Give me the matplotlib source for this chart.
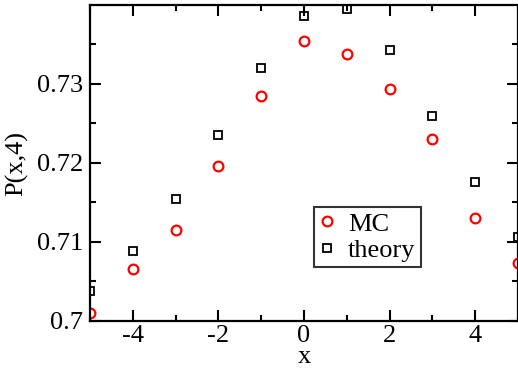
import numpy as np
import matplotlib
matplotlib.use("Agg")
import matplotlib.pyplot as plt

# data
x = [-5, -4, -3, -2, -1, 0, 1, 2, 3, 4, 5]
mc = [0.70097, 0.70653, 0.71158, 0.71966, 0.72854, 0.73539,
      0.73380, 0.72938, 0.72298, 0.71309, 0.70729]
theory = [0.70383, 0.70884, 0.71544, 0.72357, 0.73203, 0.73855,
          0.73952, 0.73426, 0.72601, 0.71759, 0.71057]

plt.rcParams['font.family'] = ['Liberation Serif', 'DejaVu Serif']
plt.rcParams['axes.unicode_minus'] = False

fig = plt.figure(figsize=(5.18, 3.69), dpi=100)
ax = fig.add_axes([90 / 518, 48 / 369, 428 / 518, 316 / 369])

ax.plot(x, mc, 'o', ms=7, mfc='none', mec='red', mew=1.6, label='MC')
ax.plot(x, theory, 's', ms=6, mfc='none', mec='black', mew=1.3, label='theory')

ax.set_xlim(-5, 5)
ax.set_ylim(0.7, 0.74)
ax.set_xticks([-4, -2, 0, 2, 4])
ax.set_xticks([-5, -3, -1, 1, 3, 5], minor=True)
ax.set_yticks([0.7, 0.71, 0.72, 0.73])
ax.set_yticklabels(['0.7', '0.71', '0.72', '0.73'])
ax.set_yticks(np.arange(0.705, 0.74, 0.01), minor=True)

ax.tick_params(which='both', direction='in', top=True, right=True,
               labelsize=19, width=1.5, pad=5)
ax.tick_params(axis='x', pad=3)
ax.tick_params(which='major', length=8)
ax.tick_params(which='minor', length=4)
for s in ax.spines.values():
    s.set_linewidth(1.6)

ax.set_xlabel('x', fontsize=19, labelpad=-1)
ax.set_ylabel('P(x,4)', fontsize=19, labelpad=6)

leg = ax.legend(loc='upper left', bbox_to_anchor=(0.523, 0.361), fontsize=19,
                frameon=True, fancybox=False, edgecolor='black',
                handlelength=0.6, handletextpad=0.5, borderpad=0.2,
                labelspacing=0.1, borderaxespad=0)
leg.get_frame().set_linewidth(1.5)

fig.savefig('out.png', dpi=100)
